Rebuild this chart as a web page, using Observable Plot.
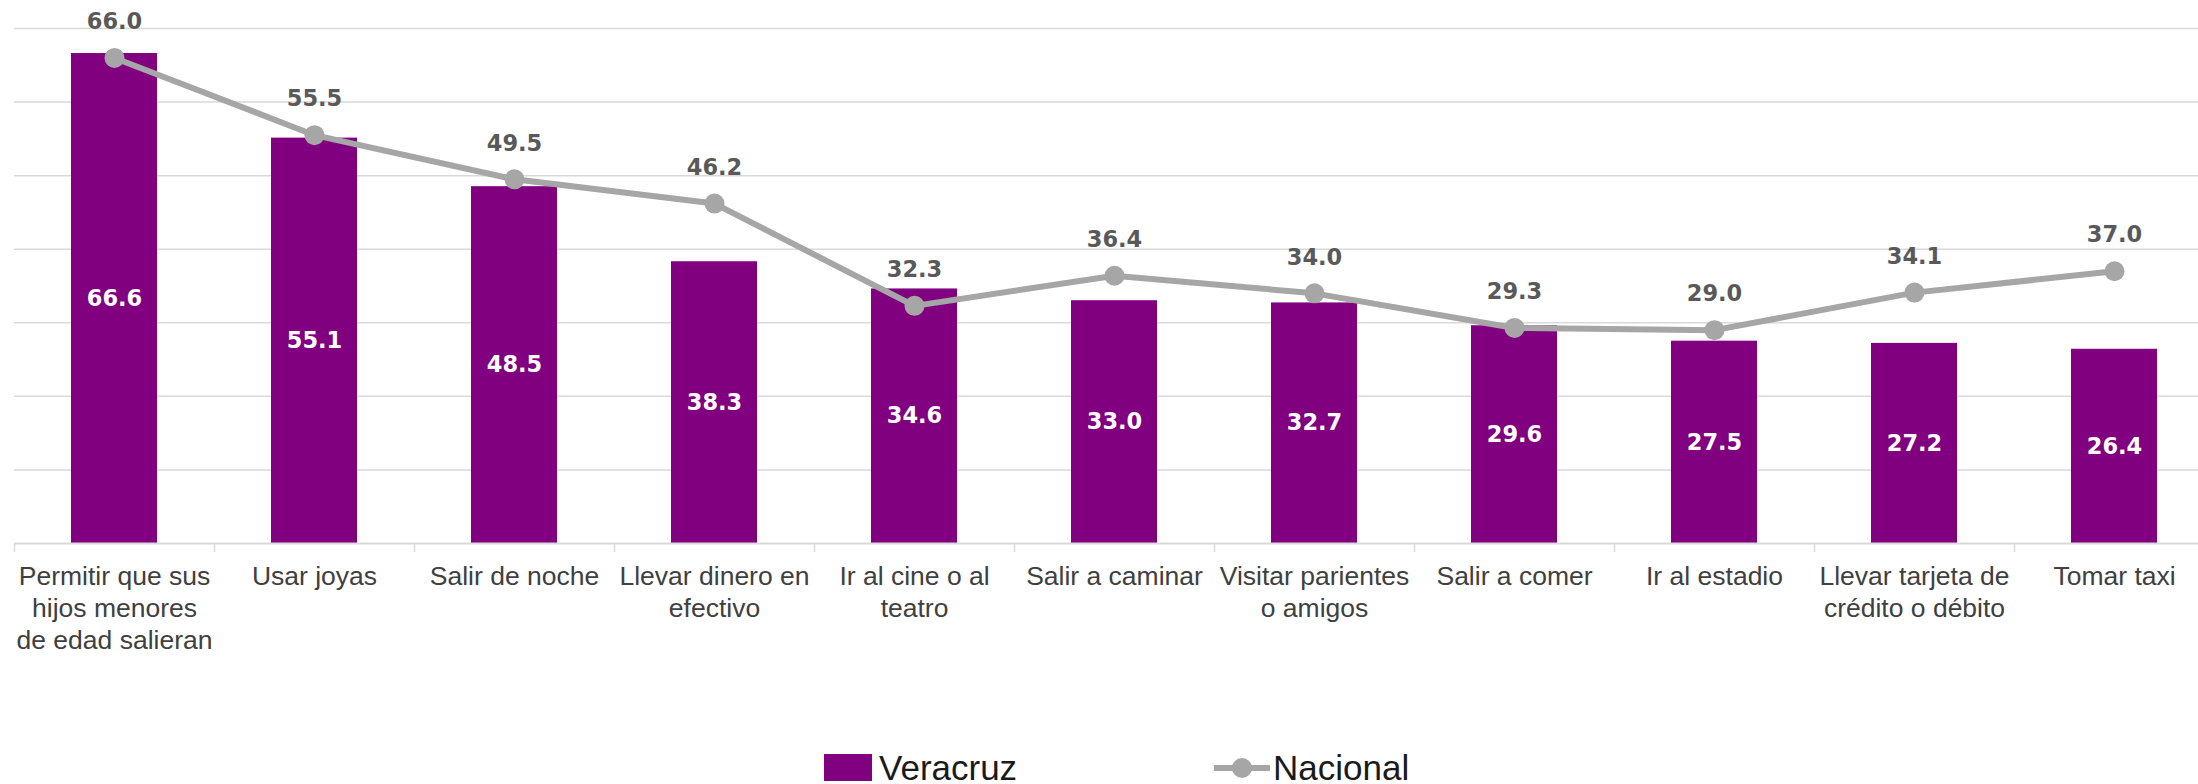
<!DOCTYPE html>
<html><head><meta charset="utf-8">
<script src="https://cdn.jsdelivr.net/npm/d3@7"></script>
<script src="https://cdn.jsdelivr.net/npm/@observablehq/plot@0.6"></script>
<style>
html,body{margin:0;padding:0;background:#fff;overflow:hidden;}
#chart svg{display:block;max-width:none;}
#legend{position:relative;width:2198px;height:54px;font-family:"Liberation Sans",Arial,sans-serif;font-size:35px;color:#1a1a1a;}
#legend .sw{position:absolute;left:824px;top:24px;width:48px;height:27px;background:#800080;}
#legend .t{position:absolute;line-height:35px;top:20px;white-space:nowrap;}
#legend svg{position:absolute;left:1212px;top:25px;}
</style></head>
<body><div id="chart"></div><div id="legend"></div>
<script>
const categories = ["Permitir que sus hijos menores de edad salieran","Usar joyas","Salir de noche","Llevar dinero en efectivo","Ir al cine o al teatro","Salir a caminar","Visitar parientes o amigos","Salir a comer","Ir al estadio","Llevar tarjeta de crédito o débito","Tomar taxi"];
const categoryLabels = ["Permitir que sus\nhijos menores\nde edad salieran","Usar joyas","Salir de noche","Llevar dinero en\nefectivo","Ir al cine o al\nteatro","Salir a caminar","Visitar parientes\no amigos","Salir a comer","Ir al estadio","Llevar tarjeta de\ncrédito o débito","Tomar taxi"];
const veracruz = [66.6,55.1,48.5,38.3,34.6,33.0,32.7,29.6,27.5,27.2,26.4];
const nacional = [66.0,55.5,49.5,46.2,32.3,36.4,34.0,29.3,29.0,34.1,37.0];
const gridTicks = [10,20,30,40,50,60,70];
const seriesNames = ["Veracruz","Nacional"];

const W = 2198, H = 730, mL = 14, mR = -16, mT = 28, mB = 187;
const step = (W - mL - mR) / categories.length;
const rows = categories.map((c,i)=>({c, label: categoryLabels[i], v: veracruz[i], n: nacional[i]}));

const chart = Plot.plot({
  width: W, height: H,
  marginLeft: mL, marginRight: mR, marginTop: mT, marginBottom: mB,
  style: {background: "#fff", overflow: "hidden"},
  x: {domain: categories, paddingInner: 0.57, paddingOuter: 0.285, axis: null},
  y: {domain: [0, 70], axis: null},
  marks: [
    Plot.ruleY(gridTicks, {stroke: "#d9d9d9", strokeWidth: 1.5}),
    Plot.barY(rows, {x: "c", y: "v", fill: "#800080"}),
    Plot.ruleY([0], {stroke: "#d9d9d9", strokeWidth: 2}),
    Plot.ruleX(rows, {x: "c", y1: 0, y2: 0, dx: -step/2, insetBottom: -9, stroke: "#d9d9d9", strokeWidth: 1.5}),
    Plot.text(rows, {x: "c", y: d => d.v / 2, text: d => d.v.toFixed(1), fill: "#fff", fontFamily: "DejaVu Sans", fontWeight: "bold", fontSize: 22.5}),
    Plot.line(rows, {x: "c", y: "n", stroke: "#a6a6a6", strokeWidth: 6}),
    Plot.dot(rows, {x: "c", y: "n", r: 10, fill: "#a6a6a6"}),
    Plot.text(rows, {x: "c", y: "n", text: d => d.n.toFixed(1), dy: -36, fill: "#595959", fontFamily: "DejaVu Sans", fontWeight: "bold", fontSize: 22.5}),
    Plot.text(rows, {x: "c", y: () => 0, text: "label", dy: 19, lineAnchor: "top", lineHeight: 1.2, fill: "#404040", fontFamily: "Liberation Sans, Arial, sans-serif", fontSize: 26.5})
  ]
});
document.getElementById("chart").appendChild(chart);

const lg = document.getElementById("legend");
lg.innerHTML = `<div class="sw"></div><span class="t" style="left:879px">${seriesNames[0]}</span>
<svg width="60" height="26" viewBox="0 0 60 26"><line x1="2" y1="13" x2="58" y2="13" stroke="#a6a6a6" stroke-width="6"/><circle cx="30" cy="13" r="10" fill="#a6a6a6"/></svg>
<span class="t" style="left:1273px">${seriesNames[1]}</span>`;
</script>
</body></html>
